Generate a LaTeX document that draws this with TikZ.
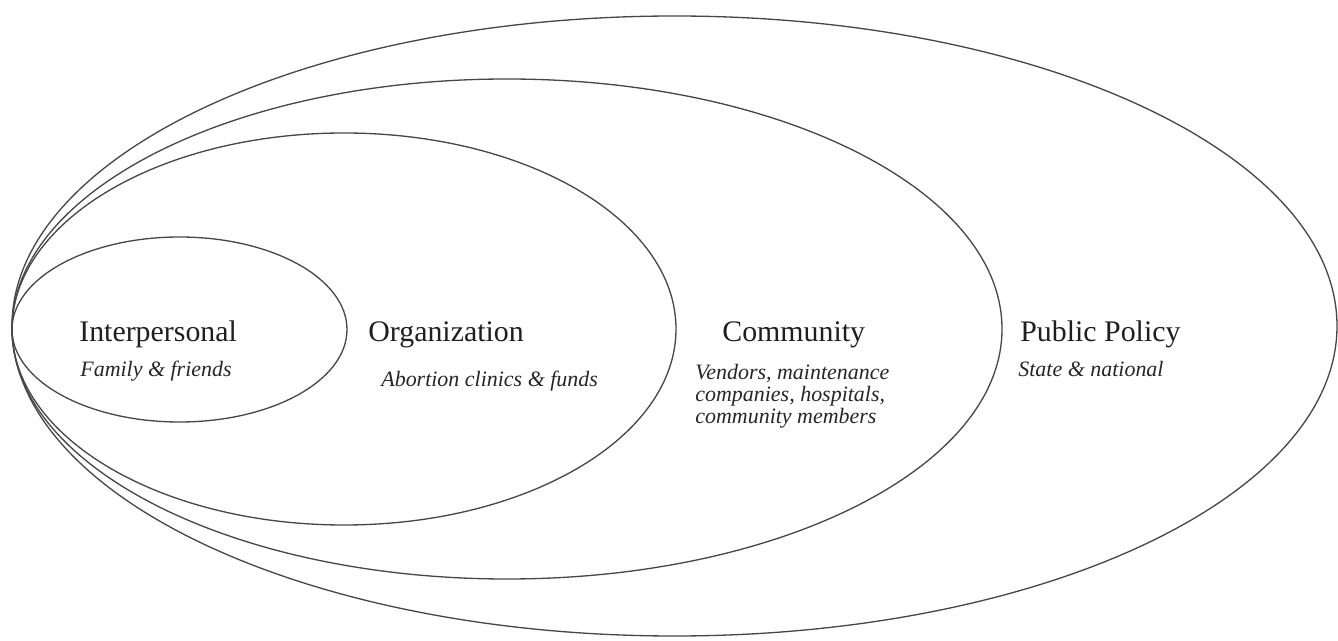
\documentclass[tikz,border=0pt]{standalone}
\usepackage{fontspec}
\setmainfont{Liberation Serif}
\begin{document}
\begin{tikzpicture}[x=0.02cm,y=-0.02cm,
  ring/.style={draw=black!72,line width=0.75pt},
  title/.style={anchor=base west,inner sep=0pt,font=\fontsize{17}{20}\selectfont,text=black!88},
  sub/.style={anchor=base west,inner sep=0pt,align=left,font=\fontsize{12.5}{12.4}\selectfont\itshape,text=black!85}]
  \useasboundingbox (0,0) rectangle (1338,641);
  % nested levels, all tangent at the left
  \draw[ring] (674.5,326) ellipse [x radius=662.5,y radius=310];
  \draw[ring] (507,329) ellipse [x radius=495,y radius=250];
  \draw[ring] (344,329) ellipse [x radius=332,y radius=196];
  \draw[ring] (179.5,329.5) ellipse [x radius=167.5,y radius=92.5];
  % labels
  \node[title] (inter) at (79,342) {Interpersonal};
  \node[sub] (intersub) at (80,377) {Family \& friends};
  \node[title] (org) at (368,342) {Organization};
  \node[sub] (orgsub) at (381,387) {Abortion clinics \& funds};
  \node[title] (comm) at (722,342) {Community};
  % three-line text, placed by its top edge
  \node[sub,anchor=north west] (commsub) at (695,364) {Vendors, maintenance\\companies, hospitals,\\community members};
  \node[title] (policy) at (1020,342) {Public Policy};
  \node[sub] (policysub) at (1018,377) {State \& national};
\end{tikzpicture}
\end{document}
